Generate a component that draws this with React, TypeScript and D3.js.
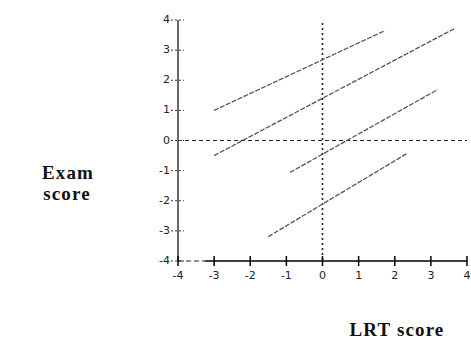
import { useEffect, useRef } from 'react';
import * as d3 from 'd3';

const xTicks = [-4, -3, -2, -1, 0, 1, 2, 3, 4];
const yTicks = [4, 3, 2, 1, 0, -1, -2, -3, -4];

// each regression line: [start, end] in LRT / Exam score units
const lineStartX = [-3.0, -3.0, -0.9, -1.5];
const lineStartY = [1.0, -0.5, -1.06, -3.19];
const lineEndX = [1.73, 3.66, 3.19, 2.34];
const lineEndY = [3.65, 3.72, 1.69, -0.43];

export default function App() {
  const svgRef = useRef<SVGSVGElement>(null);

  useEffect(() => {
    if (!svgRef.current) return;
    const svg = d3.select(svgRef.current);
    svg.selectAll('*').remove();

    const x = d3.scaleLinear().domain([-4, 4]).range([178, 467]);
    const y = d3.scaleLinear().domain([-4, 4]).range([261, 20]);

    // reference lines through the origin
    svg.append('line')
      .attr('x1', x(0)).attr('x2', x(0))
      .attr('y1', y(3.9)).attr('y2', y(-4))
      .attr('stroke', '#222').attr('stroke-width', 1.6)
      .attr('stroke-dasharray', '2,3');
    svg.append('line')
      .attr('x1', x(-4)).attr('x2', x(4))
      .attr('y1', y(0)).attr('y2', y(0))
      .attr('stroke', '#222').attr('stroke-width', 1)
      .attr('stroke-dasharray', '4,3');

    // y axis
    svg.append('line')
      .attr('x1', x(-4)).attr('x2', x(-4))
      .attr('y1', y(4)).attr('y2', y(-4))
      .attr('stroke', '#000').attr('stroke-width', 1.2);
    yTicks.forEach((t) => {
      svg.append('line')
        .attr('x1', x(-4) - 7).attr('x2', x(-4) + 6)
        .attr('y1', y(t)).attr('y2', y(t))
        .attr('stroke', '#333').attr('stroke-width', 1)
        .attr('stroke-dasharray', '2,2');
      svg.append('text')
        .attr('x', x(-4) - 8)
        .attr('y', y(t))
        .attr('text-anchor', 'end')
        .attr('dominant-baseline', 'middle')
        .style('font-family', 'DejaVu Sans, sans-serif')
        .style('font-size', '11px')
        .style('fill', '#222')
        .text(t);
    });

    // x axis: short dashed start, then solid
    svg.append('line')
      .attr('x1', x(-4)).attr('x2', x(-3.25))
      .attr('y1', y(-4)).attr('y2', y(-4))
      .attr('stroke', '#222').attr('stroke-width', 1)
      .attr('stroke-dasharray', '5,3');
    svg.append('line')
      .attr('x1', x(-3.25)).attr('x2', x(4))
      .attr('y1', y(-4)).attr('y2', y(-4))
      .attr('stroke', '#000').attr('stroke-width', 1.6);
    xTicks.forEach((t) => {
      svg.append('line')
        .attr('x1', x(t)).attr('x2', x(t))
        .attr('y1', y(-4) - 5).attr('y2', y(-4) + 5)
        .attr('stroke', '#000').attr('stroke-width', 1.5);
      svg.append('text')
        .attr('x', x(t))
        .attr('y', y(-4) + 15)
        .attr('text-anchor', 'middle')
        .attr('dominant-baseline', 'middle')
        .style('font-family', 'DejaVu Sans, sans-serif')
        .style('font-size', '11px')
        .style('fill', '#222')
        .text(t);
    });

    // regression lines
    lineStartX.forEach((sx, i) => {
      svg.append('line')
        .attr('x1', x(sx)).attr('y1', y(lineStartY[i]))
        .attr('x2', x(lineEndX[i])).attr('y2', y(lineEndY[i]))
        .attr('stroke', '#555').attr('stroke-width', 1.3)
        .attr('stroke-dasharray', '5,1.5');
    });

    // axis titles
    const titleStyle = (sel: d3.Selection<SVGTextElement, unknown, null, undefined>) =>
      sel.attr('text-anchor', 'middle')
        .style('font-family', 'Liberation Serif, serif')
        .style('font-size', '19px')
        .style('font-weight', '700')
        .style('letter-spacing', '0.06em')
        .style('fill', '#111');

    svg.append('text').attr('x', 68).attr('y', 179).call(titleStyle).text('Exam');
    svg.append('text').attr('x', 67).attr('y', 200).call(titleStyle).text('score');
    svg.append('text').attr('x', 397).attr('y', 336).call(titleStyle).text('LRT score');
  }, []);

  return (
    <svg
      ref={svgRef}
      width={471}
      height={339}
      style={{ position: 'absolute', left: 0, top: 0, background: '#fff' }}
    />
  );
}
